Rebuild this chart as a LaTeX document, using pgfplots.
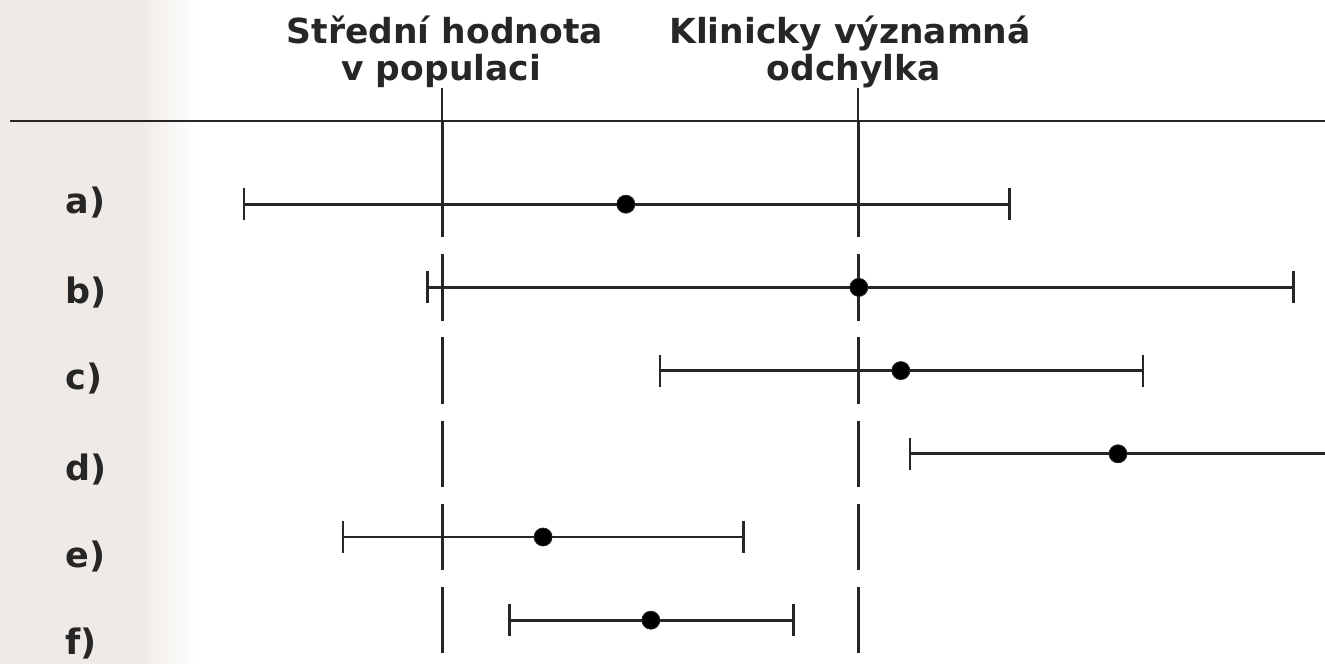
\documentclass[border=0pt]{standalone}
\usepackage{pgfplots}
\pgfplotsset{compat=1.18}
\usepackage{fontspec}
\setmainfont{DejaVu Sans}
\definecolor{ink}{HTML}{262626}
\definecolor{bgc}{HTML}{EFEAE5}
\begin{document}
\begin{tikzpicture}[lab/.style={anchor=base west, inner sep=0pt, text=ink, font=\fontsize{17.5}{18.5}\selectfont\bfseries},
  ttl/.style={anchor=base, text=ink, font=\fontsize{17.25}{18.5}\selectfont\bfseries}]
\begin{axis}[
  scale only axis,
  width=662.5pt, height=332pt,
  xmin=-1.0625, xmax=2.1226,
  ymin=-1.45433, ymax=6.52644,
  y dir=reverse,
  hide axis,
  clip=true,
]
% background band on the left
\fill[bgc] (axis cs:-1.0625,-1.45433) rectangle (axis cs:-0.726,6.52644);
\shade[left color=bgc, right color=white] (axis cs:-0.7265,-1.45433) rectangle (axis cs:-0.594,6.52644);

% header line
\addplot[ink, line width=1.2pt] coordinates {(-1.0385,0) (2.1226,0)};

% reference lines (population mean at 0, clinically significant deviation at 1)
\addplot[ink, line width=0.9pt, unbounded coords=jump] coordinates {(0,-0.4) (0,0) (0,nan) (1,-0.4) (1,0)};
\addplot[ink, line width=1.5pt, unbounded coords=jump] coordinates {
 (0,0) (0,1.4) (0,nan) (0,1.6) (0,2.4) (0,nan) (0,2.6) (0,3.4) (0,nan)
 (0,3.6) (0,4.4) (0,nan) (0,4.6) (0,5.4) (0,nan) (0,5.6) (0,6.4) (0,nan)
 (1,0) (1,1.4) (1,nan) (1,1.6) (1,2.4) (1,nan) (1,2.6) (1,3.4) (1,nan)
 (1,3.6) (1,4.4) (1,nan) (1,4.6) (1,5.4) (1,nan) (1,5.6) (1,6.4)};

% estimates with confidence intervals
\addplot[ink, only marks, mark=*, mark size=4.5pt,
  mark options={fill=black, draw=ink, line width=0.4pt},
  error bars/.cd, x dir=both, x explicit,
  error bar style={line width=1.4pt, ink},
  error mark=|,
  error mark options={rotate=0, mark size=8pt, line width=1.4pt, ink}]
coordinates {
 (0.442,1) -= (0.918,0) += (0.923,0)
 (1.002,2) -= (1.036,0) += (1.044,0)
 (1.103,3) -= (0.579,0) += (0.582,0)
 (1.625,4) -= (0.500,0) += (0.515,0)
 (0.243,5) -= (0.481,0) += (0.481,0)
 (0.502,6) -= (0.339,0) += (0.342,0)
};

% titles
\node[ttl] at (axis cs:0.007,-0.9375) {Střední hodnota};
\node[ttl] at (axis cs:-0.002,-0.49) {v populaci};
\node[ttl] at (axis cs:0.981,-0.9375) {Klinicky významná};
\node[ttl] at (axis cs:0.99,-0.49) {odchylka};

% row labels
\node[lab] at (axis cs:-0.906,1.106) {a)};
\node[lab] at (axis cs:-0.906,2.188) {b)};
\node[lab] at (axis cs:-0.906,3.233) {c)};
\node[lab] at (axis cs:-0.906,4.315) {d)};
\node[lab] at (axis cs:-0.906,5.361) {e)};
\node[lab] at (axis cs:-0.906,6.418) {f)};
\path (rel axis cs:0,0) rectangle (rel axis cs:1,1);
\end{axis}
\end{tikzpicture}
\end{document}
